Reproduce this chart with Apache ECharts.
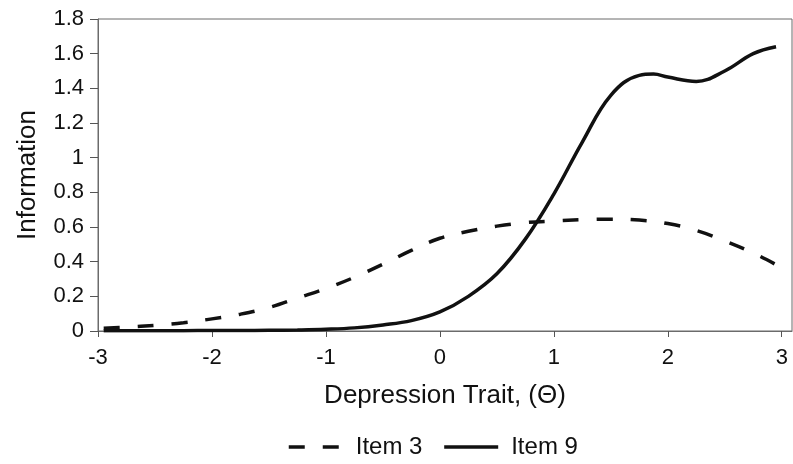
<!DOCTYPE html>
<html>
<head>
<meta charset="utf-8">
<script src="https://cdn.jsdelivr.net/npm/echarts@6/dist/echarts.min.js"></script>
<style>
  html, body { margin: 0; padding: 0; background: #fff; }
  #chart { width: 793px; height: 464px; }
</style>
</head>
<body>
<div id="chart"></div>
<script>
// theta values for each curve
var theta3 = [-2.95, -2.75, -2.5, -2.25, -2, -1.75, -1.5, -1.25, -1, -0.75, -0.5, -0.25, 0,
  0.25, 0.5, 0.75, 1, 1.25, 1.5, 1.75, 2, 2.25, 2.5, 2.75, 3, 3.05];
var item3 = [0.016, 0.022, 0.033, 0.048, 0.07, 0.097, 0.135, 0.19, 0.245, 0.31, 0.385, 0.465, 0.535,
  0.575, 0.605, 0.625, 0.635, 0.642, 0.645, 0.64, 0.62, 0.58, 0.52, 0.45, 0.365, 0.345];

var theta9 = [-2.95, -2.75, -2.5, -2.25, -2, -1.75, -1.5, -1.25, -1, -0.75, -0.5, -0.25, 0,
  0.25, 0.5, 0.75, 1, 1.25, 1.5, 1.75, 1.875, 2, 2.25, 2.5, 2.75, 2.95];
var item9 = [0.002, 0.002, 0.002, 0.002, 0.003, 0.003, 0.004, 0.006, 0.01, 0.018, 0.035, 0.06, 0.11,
  0.2, 0.33, 0.53, 0.79, 1.09, 1.36, 1.475, 1.482, 1.465, 1.44, 1.5, 1.6, 1.64];

var xTicks = [-3, -2, -1, 0, 1, 2, 3];

function pairs(xs, ys) {
  return xs.map(function (x, i) { return [x, ys[i]]; });
}

var font = "Liberation Sans";
var chart = echarts.init(document.getElementById("chart"));
chart.setOption({
  animation: false,
  grid: {
    left: 98,
    right: 1,
    top: 19,
    bottom: 133,
    show: true,
    borderColor: "#6b6b6b",
    borderWidth: 1
  },
  legend: {
    data: ["Item 3", "Item 9"],
    left: 287,
    top: 435,
    padding: 0,
    itemWidth: 54,
    itemHeight: 14,
    itemGap: 20,
    itemStyle: { opacity: 0 },
    lineStyle: { width: 3.5 },
    textStyle: {
      color: "#111",
      fontFamily: font,
      fontSize: 24,
      padding: [0, 0, 0, 8]
    }
  },
  xAxis: {
    type: "value",
    min: -3,
    max: 3.09,
    name: "Depression Trait, (\u0398)",
    nameLocation: "middle",
    nameGap: 52,
    nameTextStyle: { color: "#111", fontFamily: font, fontSize: 26 },
    axisLine: { onZero: false, lineStyle: { color: "#6b6b6b", width: 1 } },
    axisTick: { show: true, customValues: xTicks, length: 6, lineStyle: { color: "#555" } },
    axisLabel: { customValues: xTicks, color: "#111", fontFamily: font, fontSize: 22, margin: 16 },
    splitLine: { show: false }
  },
  yAxis: {
    type: "value",
    min: 0,
    max: 1.8,
    interval: 0.2,
    name: "Information",
    nameLocation: "middle",
    nameGap: 57,
    nameTextStyle: { color: "#111", fontFamily: font, fontSize: 26 },
    axisLine: { show: true, onZero: false, lineStyle: { color: "#6b6b6b", width: 1 } },
    axisTick: { show: true, length: 8, lineStyle: { color: "#555" } },
    axisLabel: { color: "#111", fontFamily: font, fontSize: 22, margin: 14 },
    splitLine: { show: false }
  },
  series: [
    {
      name: "Item 3",
      type: "line",
      data: pairs(theta3, item3),
      smooth: 0.4,
      symbol: "none",
      lineStyle: { color: "#111", width: 3.5, type: [16, 18] },
      itemStyle: { color: "#111" }
    },
    {
      name: "Item 9",
      type: "line",
      data: pairs(theta9, item9),
      smooth: 0.4,
      symbol: "none",
      lineStyle: { color: "#111", width: 3.5 },
      itemStyle: { color: "#111" }
    }
  ]
});
</script>
</body>
</html>
